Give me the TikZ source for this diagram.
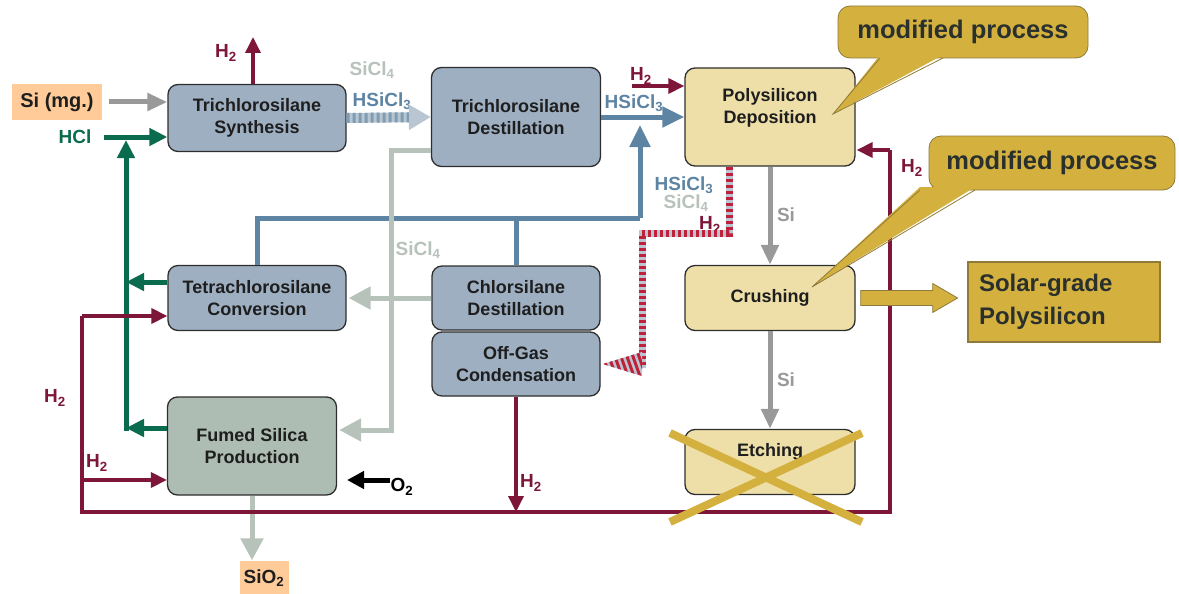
\documentclass[tikz,border=0pt]{standalone}
\usepackage{fontspec}
\setmainfont{Liberation Sans}
\usetikzlibrary{arrows.meta}

\definecolor{boxblue}{HTML}{9EAFC2}
\definecolor{boxtan}{HTML}{EEDFA9}
\definecolor{boxsage}{HTML}{ADBDB3}
\definecolor{boxorange}{HTML}{FFCC99}
\definecolor{boxedge}{HTML}{2E2E2E}
\definecolor{goldfill}{HTML}{D4B13F}
\definecolor{goldedge}{HTML}{8F7A3A}
\definecolor{clrmaroon}{HTML}{7D1638}
\definecolor{clrgreen}{HTML}{0B6B4E}
\definecolor{clrblue}{HTML}{5E84A3}
\definecolor{clrlight}{HTML}{B7C2BA}
\definecolor{clrgray}{HTML}{999999}
\definecolor{hatchpale}{HTML}{B9C6D2}
\definecolor{stripered}{HTML}{C0213A}
\definecolor{txtdark}{HTML}{1E1E1E}
\definecolor{txtslate}{HTML}{2A302E}

\tikzset{
  proc/.style={draw=boxedge, line width=1.3pt, rounded corners=10pt, fill=boxblue,
    align=center, text=txtdark, inner sep=0pt, font=\bfseries\fontsize{18}{22}\selectfont},
  proctext/.style={align=center, text=txtdark, inner sep=0pt, font=\bfseries\fontsize{18}{22}\selectfont},
  bubble/.style={draw=goldedge, line width=0.8pt, fill=goldfill, rounded corners=12pt,
    text=txtslate, inner sep=0pt, font=\bfseries\fontsize{25.5}{28}\selectfont},
  lbl/.style={inner sep=0pt, font=\bfseries\fontsize{19}{21}\selectfont},
  h2lbl/.style={lbl, text=clrmaroon},
  grayarrow/.style={draw=clrgray, line width=5pt, -{Triangle[length=20pt,width=17pt]}},
  lightarrow/.style={draw=clrlight, line width=5pt, -{Triangle[length=22pt,width=22pt]}},
  greenarrow/.style={draw=clrgreen, line width=5pt, -{Triangle[length=18pt,width=17pt]}},
  bluearrow/.style={draw=clrblue, line width=5pt, -{Triangle[length=22pt,width=20pt]}},
  maroonarrow/.style={draw=clrmaroon, line width=3.5pt, -{Triangle[length=16pt,width=15pt]}},
  maroonln/.style={draw=clrmaroon, line width=3.5pt},
  stripeln/.style={draw=stripered, line width=7pt, dash pattern=on 3pt off 3pt},
}

\begin{document}
\begin{tikzpicture}[x=1pt,y=-1pt]
\useasboundingbox (0,0) rectangle (1179,594);

% process boxes
\node[proc, fill=boxorange, draw=none, rounded corners=0pt, minimum width=90pt, minimum height=35pt,
  font=\bfseries\fontsize{20}{22}\selectfont] (simg) at (57,102) {Si (mg.)};
\node[proc, minimum width=178pt, minimum height=67pt] (syn) at (257,118) {Trichlorosilane\\Synthesis};
\node[proc, minimum width=169pt, minimum height=99pt] (dest) at (516,117) {Trichlorosilane\\Destillation};
\node[proc, fill=boxtan, minimum width=170pt, minimum height=98pt] (depo) at (770,117) {};
\node[proctext] (depotxt) at ([yshift=9pt]depo.center) {Polysilicon\\Deposition};
\node[proc, minimum width=178pt, minimum height=65pt] (tetra) at (257,298) {Tetrachlorosilane\\Conversion};
\node[proc, minimum width=168pt, minimum height=64pt] (chlor) at (516,298) {Chlorsilane\\Destillation};
\node[proc, minimum width=168pt, minimum height=64pt] (offgas) at (516,364) {Off-Gas\\Condensation};
\node[proc, fill=boxsage, minimum width=169pt, minimum height=98pt] (fumed) at (252,446) {Fumed Silica\\Production};
\node[proc, fill=boxtan, minimum width=170pt, minimum height=65pt] (crush) at (770,298) {Crushing};
\node[proc, fill=boxtan, minimum width=170pt, minimum height=65pt] (etch) at (770,462) {};
\node[proctext] (etchtxt) at ([yshift=10pt]etch.center) {Etching};
\node[proc, fill=goldfill, draw=goldedge, rounded corners=0pt, minimum width=192pt, minimum height=80pt,
  text width=170pt, align=left, text=txtslate, font=\bfseries\fontsize{24}{33}\selectfont]
  (solar) at (1064,302) {Solar-grade\\Polysilicon};
\node[proc, fill=boxorange, draw=none, rounded corners=0pt, minimum width=49pt, minimum height=34pt,
  font=\bfseries\fontsize{19}{21}\selectfont] (sio) at (264,578) {SiO\textsubscript{2}};

% labels
\node[lbl, text=clrgreen] (hcl) at (75,137) {HCl};
\node[h2lbl] (h2syn) at (226,53) {H\textsubscript{2}};
\node[lbl, text=clrlight] (sicla) at (372,70) {SiCl\textsubscript{4}};
\node[lbl, text=clrblue] (hsicla) at (382,101) {HSiCl\textsubscript{3}};
\node[lbl, text=clrblue] (hsiclb) at (634,103) {HSiCl\textsubscript{3}};
\node[h2lbl] (h2dep) at (641,76) {H\textsubscript{2}};
\node[lbl, text=clrblue] (hsiclc) at (684,185) {HSiCl\textsubscript{3}};
\node[lbl, text=clrlight] (siclc) at (686,203) {SiCl\textsubscript{4}};
\node[h2lbl] (h2off) at (710,225) {H\textsubscript{2}};
\node[lbl, text=clrlight] (siclb) at (418,250) {SiCl\textsubscript{4}};
\node[lbl, text=clrgray] (sia) at (786,215) {Si};
\node[lbl, text=clrgray] (sib) at (786,380) {Si};
\node[h2lbl] (h2ret) at (912,168) {H\textsubscript{2}};
\node[h2lbl] (h2left) at (55,398) {H\textsubscript{2}};
\node[h2lbl] (h2fum) at (97,463) {H\textsubscript{2}};
\node[h2lbl] (h2cond) at (531,483) {H\textsubscript{2}};
\node[lbl] (otwo) at (402,487) {O\textsubscript{2}};

% bend points
\coordinate (h2top) at (253,37);
\coordinate (h2in) at (632,86);
\coordinate (gH) at (126,140);
\coordinate (gT) at (126,282);
\coordinate (gF) at (126,428);
\coordinate (gB) at (126,431);
\coordinate (bj) at (640,218);
\coordinate (bup) at (640,125);
\coordinate (s1) at (729,233);
\coordinate (s2) at (642,233);
\coordinate (s3) at (642,364);
\coordinate (lg1) at (391,150);
\coordinate (lg2) at (391,430);
\coordinate (mL) at (82,512);
\coordinate (mR) at (890,512);
\coordinate (mRt) at (890,150);
\coordinate (mB) at (516,512);
\coordinate (mT) at (82,316);
\coordinate (mF) at (82,480);
\coordinate (otip) at (347,480);

% feed and product flows
\draw[grayarrow] ([xshift=6pt]simg.east) -- (syn.west |- simg.east);
\draw[greenarrow] ([xshift=12pt]hcl.east) -- (syn.west |- hcl.east);
\draw[greenarrow] (gB) -- (gH);
\draw[greenarrow] (tetra.west |- gT) -- (gT);
\draw[greenarrow] (fumed.west |- gF) -- (gF);
\draw[maroonarrow] (h2top |- syn.north) -- (h2top);
\draw[draw=hatchpale, line width=10pt, -{Triangle[length=22pt,width=24pt]}] (syn.east) -- (dest.west);
\draw[draw=clrblue!80, line width=10pt, dash pattern=on 3pt off 3pt, shorten >=22pt] (syn.east) -- (dest.west);
\draw[bluearrow] (dest.east) -- (depo.west);
\draw[maroonarrow] (h2in) -- (depo.west |- h2in);
\draw[draw=clrblue, line width=5pt] (tetra.north) -- (tetra.north |- bj) -- (bj);
\draw[draw=clrblue, line width=5pt] (chlor.north) -- (chlor.north |- bj);
\draw[bluearrow] (bj) -- (bup);
% off-gas line, striped
\draw[draw=hatchpale, line width=7pt] (depo.south -| s1) -- (s1) -- (s2) -- ([yshift=-3.5pt]s3);
\draw[stripeln] (depo.south -| s1) -- (s1) -- (s2) -- ([yshift=-3.5pt]s3);
\coordinate (stip) at ([xshift=2pt]offgas.east |- s3);
\fill[hatchpale] (stip) -- ([yshift=12pt]s3) -- ([yshift=-12pt]s3) -- cycle;
\begin{scope}
  \clip (stip) -- ([yshift=12pt]s3) -- ([yshift=-12pt]s3) -- cycle;
  \foreach \k in {0,...,7}
    \draw[stripered, line width=3pt] (594+6*\k,348) -- (606+6*\k,382);
\end{scope}
\draw[draw=clrlight, line width=5pt] (dest.west |- lg1) -- (lg1) -- (lg2) -- ([xshift=20pt]fumed.east |- lg2);
\draw[lightarrow] ([xshift=20pt]fumed.east |- lg2) -- ([xshift=2pt]fumed.east |- lg2);
\draw[lightarrow] (chlor.west) -- ([xshift=2pt]tetra.east);
\draw[grayarrow] (depo.south) -- (crush.north);
\draw[grayarrow] (crush.south) -- (etch.north);
\draw[lightarrow] (fumed.south) -- (fumed.south |- sio.north);
\draw[draw=black, line width=5pt, -{Triangle[length=17pt,width=17pt]}] (otwo.west |- otip) -- (otip);

% hydrogen return loop
\draw[maroonarrow] (offgas.south) -- (mB);
\draw[maroonln] (mT) -- (mL) -- (mR) -- (mRt);
\draw[maroonarrow] (mRt) -- ([xshift=1pt]depo.east |- mRt);
\draw[maroonarrow] (mT) -- (tetra.west |- mT);
\draw[maroonarrow] (mF) -- (fumed.west |- mF);

% product arrow
\draw[draw=goldedge, fill=goldfill, line width=0.8pt] ([xshift=5pt]crush.east) ++(0,-7.5)
  -- ++(72,0) -- ++(0,-7) -- ++(25,14.5) -- ++(-25,14.5) -- ++(0,-7) -- ++(-72,0) -- cycle;

% etching removed
\draw[draw=goldfill, line width=8pt] (670,433) -- (862,522);
\draw[draw=goldfill, line width=8pt] (670,522) -- (862,433);

% callouts
\node[bubble, minimum width=250pt, minimum height=52pt] (modA) at (963,32) {modified process};
\fill[goldfill] (833,114) -- (880,55) -- (943,55) -- cycle;
\draw[draw=goldedge, line width=0.8pt] (880,58) -- (833,114) -- (943,58);
\node[bubble, minimum width=246pt, minimum height=54pt] (modB) at (1052,163) {modified process};
\fill[goldfill] (812,287) -- (920,187) -- (975,187) -- cycle;
\draw[draw=goldedge, line width=0.8pt] (920,190) -- (812,287) -- (975,190);
\end{tikzpicture}
\end{document}
